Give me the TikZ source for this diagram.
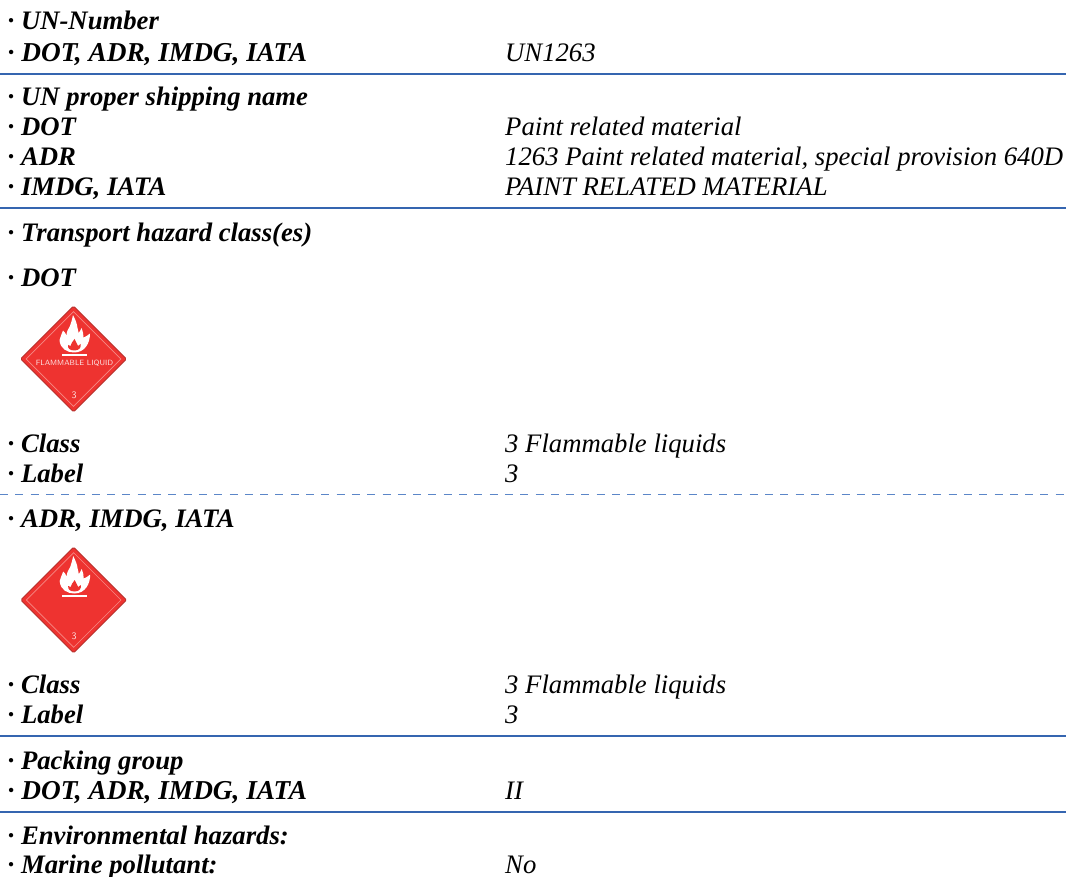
\documentclass[tikz,border=0pt]{standalone}
\usepackage{fontspec}
\setmainfont{Liberation Serif}
\definecolor{rulecol}{HTML}{3565B0}
\definecolor{dashcol}{HTML}{5B86C8}
\definecolor{diared}{HTML}{EE3330}
\definecolor{diadark}{HTML}{B8322E}
\definecolor{diaedge}{HTML}{F58A85}
\tikzset{
  x=1pt,y=-1pt,
  keytext/.style={anchor=base west,inner sep=0pt,font=\fontsize{26.7}{30}\selectfont\bfseries\itshape},
  widekey/.style={anchor=base west,inner sep=0pt,font=\fontsize{27.3}{30}\selectfont\bfseries\itshape},
  valtext/.style={anchor=base west,inner sep=0pt,font=\fontsize{26.7}{30}\selectfont\itshape},
  sectionrule/.style={draw=rulecol,line width=2pt},
  dashrule/.style={draw=dashcol,line width=1.5pt,dash pattern=on 8pt off 7.3pt},
}
\newcommand{\placard}[3]{%
  \begin{scope}[shift={(#1,#2)}]
    \fill[diadark,rounded corners=1.5pt] (-53.5,0)--(0,-53.5)--(53.5,0)--(0,53.5)--cycle;
    \fill[diared,rounded corners=1pt] (-52,0)--(0,-52)--(52,0)--(0,52)--cycle;
    \draw[diaedge,line width=0.7pt] (-47.3,0)--(0,-47.3)--(47.3,0)--(0,47.3)--cycle;
    \fill[white] (0.5,-6.5)
      .. controls (-6,-6.5) and (-13.5,-10) .. (-14,-19)
      .. controls (-13.5,-22) and (-11.5,-25) .. (-10.5,-28.5)
      .. controls (-9,-27) and (-8,-26) .. (-7,-23.5)
      .. controls (-7,-28) and (-5,-30) .. (-3.5,-33)
      .. controls (-2.5,-36) and (-1.5,-39) .. (-0.5,-44)
      .. controls (1.5,-40) and (3.5,-36) .. (4,-31)
      .. controls (4.5,-29) and (5,-27.5) .. (5,-26)
      .. controls (6,-27) and (7,-28.5) .. (8,-31)
      .. controls (9.5,-27) and (10,-25) .. (10,-21.5)
      .. controls (12,-22) and (14,-23.5) .. (16.5,-25.5)
      .. controls (16.5,-16) and (11.5,-6.5) .. (0.5,-6.5) -- cycle;
    \fill[diared] (1,-8.5)
      .. controls (-4,-8.5) and (-6,-11) .. (-5.5,-14)
      .. controls (-4.5,-13) and (-4,-13) .. (-3,-13)
      .. controls (-3,-15) and (-1,-17) .. (1,-20)
      .. controls (2,-17) and (4,-15) .. (4.5,-13)
      .. controls (5,-13.5) and (6,-14) .. (7,-15)
      .. controls (8,-12) and (6,-8.5) .. (1,-8.5) -- cycle;
    \fill[white] (-11.5,-4.7) rectangle (13,-3.4);
    \node[inner sep=0pt,text=white!85!diared,font=\fontsize{10}{11}\selectfont\sffamily] at (0.5,36) {3};
    #3
  \end{scope}}
\begin{document}
\begin{tikzpicture}
\useasboundingbox (0,0) rectangle (1066,877);
\fill[white] (0,0) rectangle (1066,877);
% rules
\coordinate (r1a) at (0,73.7); \coordinate (r1b) at (1066,73.7);
\coordinate (r2a) at (0,208.5); \coordinate (r2b) at (1066,208.5);
\coordinate (r3a) at (0,735.5); \coordinate (r3b) at (1066,735.5);
\coordinate (r4a) at (0,811.7); \coordinate (r4b) at (1066,811.7);
\coordinate (d1a) at (0,494.5); \coordinate (d1b) at (1066,494.5);
\draw[sectionrule] (r1a)--(r1b);
\draw[sectionrule] (r2a)--(r2b);
\draw[sectionrule] (r3a)--(r3b);
\draw[sectionrule] (r4a)--(r4b);
\draw[dashrule] (d1a)--(d1b);
% text
\node[keytext] (k1) at (7.5,30) {\textperiodcentered{} UN-Number};
\node[widekey] (k2) at (7.5,61.5) {\textperiodcentered{} DOT, ADR, IMDG, IATA};
\node[valtext] (v2) at (505,61.5) {UN1263};
\node[keytext] (k3) at (7.5,106) {\textperiodcentered{} UN proper shipping name};
\node[keytext] (k4) at (7.5,136) {\textperiodcentered{} DOT};
\node[valtext] (v4) at (505,136) {Paint related material};
\node[keytext] (k5) at (7.5,166) {\textperiodcentered{} ADR};
\node[valtext] (v5) at (505,166) {1263 Paint related material, special provision 640D};
\node[keytext] (k6) at (7.5,196) {\textperiodcentered{} IMDG, IATA};
\node[valtext] (v6) at (505,196) {PAINT RELATED MATERIAL};
\node[keytext] (k7) at (7.5,241.5) {\textperiodcentered{} Transport hazard class(es)};
\node[keytext] (k8) at (7.5,286.5) {\textperiodcentered{} DOT};
\placard{73.5}{359}{\node[inner sep=0pt,text=white!85!diared,font=\fontsize{7.6}{9}\selectfont\sffamily] at (1,4.5) {FLAMMABLE LIQUID};}
\node[keytext] (k9) at (7.5,452) {\textperiodcentered{} Class};
\node[valtext] (v9) at (505,452) {3 Flammable liquids};
\node[keytext] (k10) at (7.5,482.5) {\textperiodcentered{} Label};
\node[valtext] (v10) at (505,482.5) {3};
\node[keytext] (k11) at (7.5,527) {\textperiodcentered{} ADR, IMDG, IATA};
\placard{73.7}{600}{}
\node[keytext] (k12) at (7.5,693) {\textperiodcentered{} Class};
\node[valtext] (v12) at (505,693) {3 Flammable liquids};
\node[keytext] (k13) at (7.5,723.5) {\textperiodcentered{} Label};
\node[valtext] (v13) at (505,723.5) {3};
\node[keytext] (k14) at (7.5,769) {\textperiodcentered{} Packing group};
\node[widekey] (k15) at (7.5,799) {\textperiodcentered{} DOT, ADR, IMDG, IATA};
\node[valtext] (v15) at (505,799) {II};
\node[keytext] (k16) at (7.5,844) {\textperiodcentered{} Environmental hazards:};
\node[keytext] (k17) at (7.5,873) {\textperiodcentered{} Marine pollutant:};
\node[valtext] (v17) at (505,873) {No};
\end{tikzpicture}
\end{document}
